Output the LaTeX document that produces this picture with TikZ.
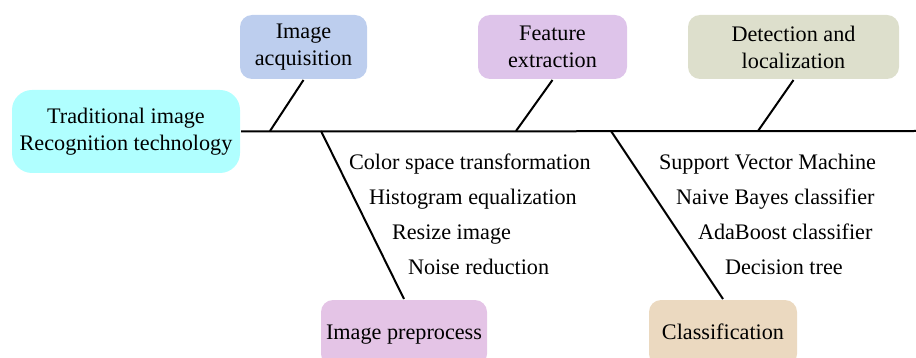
\documentclass[tikz,border=0pt]{standalone}
\usepackage{fontspec}
\setmainfont{Liberation Serif}
\definecolor{rootcol}{RGB}{176,255,255}
\definecolor{acqcol}{RGB}{189,206,238}
\definecolor{featcol}{RGB}{222,196,234}
\definecolor{detcol}{RGB}{221,223,204}
\definecolor{precol}{RGB}{228,196,230}
\definecolor{clscol}{RGB}{235,217,192}
\begin{document}
\begin{tikzpicture}[x=1pt,y=-1pt,line width=2pt]
      \useasboundingbox (0,0) rectangle (916,358);
      \clip (0,0) rectangle (916,358);

      \begin{scope}[every node/.style={rounded corners=12pt, align=center, inner sep=0pt,
          font=\fontsize{22.2}{27}\selectfont}]
        \node[fill=rootcol, minimum width=228pt, minimum height=83pt, rounded corners=20pt] (root) at (126,131.5) {Traditional image\\Recognition technology};
        \node[fill=acqcol, minimum width=127pt, minimum height=64pt] (acq)  at (303.5,47)  {Image\\acquisition};
        \node[fill=featcol, minimum width=149pt, minimum height=64pt] (feat) at (552.5,47)  {Feature\\extraction};
        \node[fill=detcol, minimum width=211pt, minimum height=64pt] (det)  at (793.5,47)  {Detection and\\localization};
        \node[fill=precol, minimum width=166pt, minimum height=66pt] (pre)  at (404,333)  {\raisebox{-6pt}[0pt][0pt]{Image preprocess}};
        \node[fill=clscol, minimum width=148pt, minimum height=66pt] (cls)  at (723,333)  {\raisebox{-6pt}[0pt][0pt]{Classification}};
      \end{scope}

      \coordinate (end) at (916,131);
      \coordinate (a1) at (270,131);
      \coordinate (a2) at (516,131);
      \coordinate (a3) at (758,131);
      \coordinate (b1) at (321,131);
      \coordinate (b2) at (611,131);

      \draw (root.east) -- (end);
      \draw (acq.south) -- (a1);
      \draw (feat.south) -- (a2);
      \draw (det.south) -- (a3);
      \draw (pre.north) -- (b1);
      \draw (cls.north) -- (b2);

      \begin{scope}[every node/.style={anchor=base west, inner sep=0pt,
          font=\fontsize{22.2}{26}\selectfont}]
        \node (p1) at (348,170) {Color space transformation};
        \node (p2) at (368,205) {Histogram equalization};
        \node (p3) at (391,240) {Resize image};
        \node (p4) at (407,275) {Noise reduction};
        \node (c1) at (658,170) {Support Vector Machine};
        \node (c2) at (675,205) {Naive Bayes classifier};
        \node (c3) at (697,240) {AdaBoost classifier};
        \node (c4) at (724,275) {Decision tree};
      \end{scope}

    \end{tikzpicture}
\end{document}
